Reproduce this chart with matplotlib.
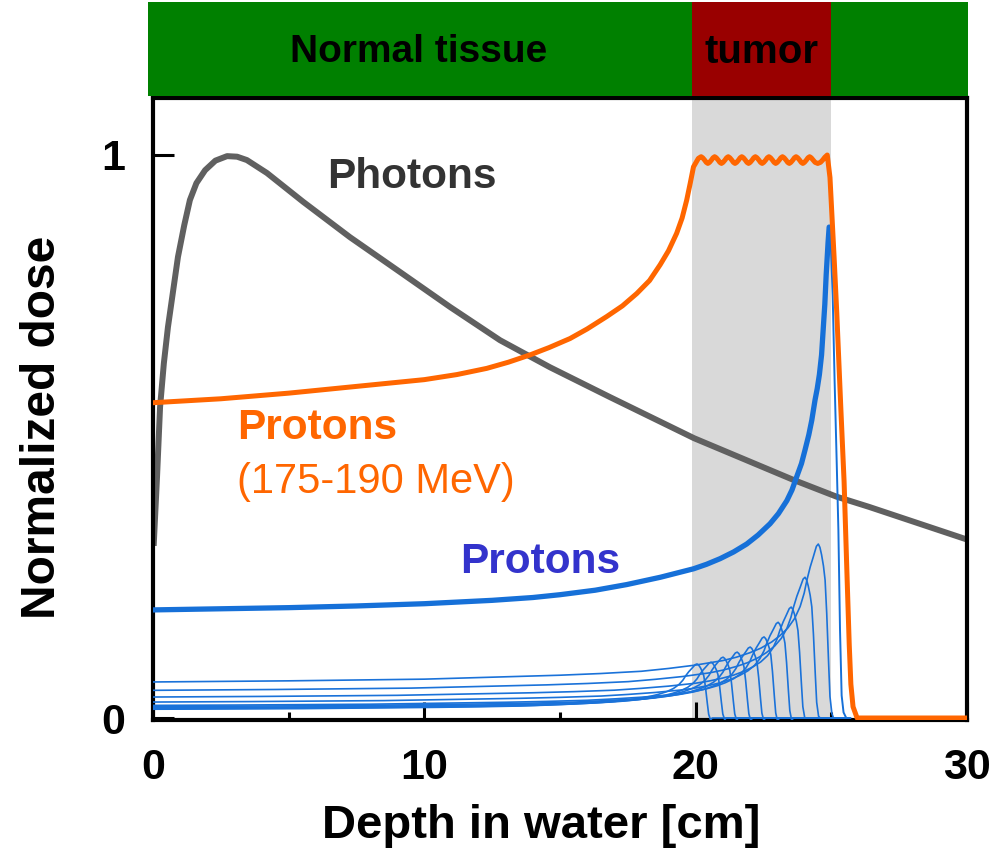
import numpy as np
import matplotlib
matplotlib.use("Agg")
import matplotlib.pyplot as plt

plt.rcParams['font.family'] = ['Liberation Sans', 'DejaVu Sans']

# ---------------- data ----------------
# Photon depth-dose
photon_x = [0.03, 0.15, 0.26, 0.40, 0.55, 0.92, 1.15, 1.36, 1.60, 1.92, 2.30, 2.73, 3.10,
            3.46, 4.20, 5.53, 7.26, 8.99, 10.95, 12.79, 14.63, 16.84, 19.94, 23.60, 25.20,
            26.39, 30.0]
photon_y = [0.311, 0.430, 0.552, 0.630, 0.694, 0.819, 0.875, 0.920, 0.950, 0.973, 0.990,
            0.998, 0.997, 0.991, 0.968, 0.917, 0.854, 0.796, 0.730, 0.671, 0.623, 0.570,
            0.497, 0.423, 0.393, 0.375, 0.317]

# Spread-out Bragg peak (175-190 MeV protons)
sobp_x = [0.0, 2.5, 5.0, 7.5, 10.0, 11.2, 12.30, 13.10, 13.90, 14.60, 15.37, 16.00, 16.72,
          17.30, 17.83, 18.30, 18.69, 19.00, 19.30, 19.50, 19.67, 19.80, 19.92, 20.10,
          20.20, 20.26, 20.33, 20.39, 20.45, 20.51, 20.58, 20.64,
          20.70, 20.76, 20.83, 20.89, 20.95, 21.01, 21.08, 21.14,
          21.20, 21.26, 21.33, 21.39, 21.45, 21.51, 21.58, 21.64,
          21.70, 21.76, 21.83, 21.89, 21.95, 22.01, 22.08, 22.14,
          22.20, 22.26, 22.33, 22.39, 22.45, 22.51, 22.58, 22.64,
          22.70, 22.76, 22.83, 22.89, 22.95, 23.01, 23.08, 23.14,
          23.20, 23.26, 23.33, 23.39, 23.45, 23.51, 23.58, 23.64,
          23.70, 23.76, 23.83, 23.89, 23.95, 24.01, 24.08, 24.14,
          24.20, 24.26, 24.33, 24.40, 24.50, 24.60, 24.68, 24.76, 24.85,
          24.95, 25.10, 25.20, 25.35, 25.47, 25.58, 25.66, 25.72, 25.80, 25.95, 30.0]
sobp_y = [0.560, 0.567, 0.577, 0.589, 0.601, 0.610, 0.621, 0.632, 0.645, 0.658, 0.674, 0.691,
          0.713, 0.732, 0.754, 0.777, 0.805, 0.830, 0.861, 0.888, 0.920, 0.950, 0.979, 0.994,
          0.997, 0.995, 0.991, 0.987, 0.985, 0.987, 0.991, 0.995,
          0.997, 0.995, 0.991, 0.987, 0.985, 0.987, 0.991, 0.995,
          0.997, 0.995, 0.991, 0.987, 0.985, 0.987, 0.991, 0.995,
          0.997, 0.995, 0.991, 0.987, 0.985, 0.987, 0.991, 0.995,
          0.997, 0.995, 0.991, 0.987, 0.985, 0.987, 0.991, 0.995,
          0.997, 0.995, 0.991, 0.987, 0.985, 0.987, 0.991, 0.995,
          0.997, 0.995, 0.991, 0.987, 0.985, 0.987, 0.991, 0.995,
          0.997, 0.995, 0.991, 0.987, 0.985, 0.987, 0.991, 0.995,
          0.997, 0.995, 0.991, 0.987, 0.985, 0.987, 0.991, 0.996, 1.000,
          0.960, 0.820, 0.720, 0.550, 0.420, 0.250, 0.130, 0.060, 0.020, 0.000, 0.000]

# Pristine Bragg peak (thick blue)
bragg_x = [0.0, 2.5, 5.0, 7.5, 10.0, 12.5, 14.0, 15.0, 16.3, 17.46, 18.7, 19.92, 20.4, 20.9,
           21.4, 21.88, 22.3, 22.74, 23.05, 23.36, 23.55, 23.72, 23.9, 24.03, 24.17, 24.28,
           24.40, 24.48, 24.56, 24.64, 24.70, 24.76, 24.81, 24.85, 24.88, 24.92]
bragg_y = [0.192, 0.194, 0.196, 0.199, 0.203, 0.209, 0.214, 0.219, 0.227, 0.237, 0.250,
           0.265, 0.273, 0.283, 0.295, 0.309, 0.325, 0.345, 0.363, 0.386, 0.405, 0.428,
           0.452, 0.476, 0.503, 0.529, 0.565, 0.585, 0.610, 0.645, 0.690, 0.735, 0.787,
           0.820, 0.845, 0.872]
# distal fall-off of the pristine peak (drawn thin)
fall_x = [24.92, 24.98, 25.05, 25.12, 25.20, 25.26, 25.32, 25.38, 25.45, 25.55, 25.70]
fall_y = [0.872, 0.840, 0.750, 0.600, 0.450, 0.334, 0.156, 0.040, 0.010, 0.000, 0.000]

# Deepest individual Bragg peak (thin blue), read point by point
thin_x = [0.0, 5.0, 10.0, 15.0, 16.5, 18.0, 19.0, 20.0, 20.5, 21.0, 21.5, 22.0, 22.4, 22.8,
          23.1, 23.4, 23.65, 23.85, 24.0, 24.1, 24.22, 24.34, 24.45, 24.52, 24.58, 24.64,
          24.71, 24.77, 24.83, 24.90, 24.95, 25.02, 25.08]
thin_y = [0.064, 0.066, 0.069, 0.076, 0.079, 0.083, 0.088, 0.094, 0.098, 0.102, 0.108,
          0.116, 0.124, 0.135, 0.146, 0.160, 0.177, 0.198, 0.222, 0.245, 0.268, 0.287,
          0.305, 0.309, 0.303, 0.290, 0.270, 0.245, 0.186, 0.097, 0.038, 0.008, 0.0]

# All individual weighted Bragg peaks forming the SOBP
peak_depth = [20.05, 20.57, 21.01, 21.53, 22.01, 22.52, 23.04, 23.52, 24.03, 24.52]
peak_height = [0.096, 0.099, 0.108, 0.117, 0.126, 0.144, 0.170, 0.197, 0.250, 0.309]
peak_entrance = [0.015, 0.016, 0.017, 0.018, 0.020, 0.022, 0.028, 0.037, 0.049, 0.064]

# Regions
tumor_start, tumor_end = 19.87, 25.0
band_labels = ["Normal tissue", "tumor"]

xticks = [0, 10, 20, 30]
xminor = [5, 15, 25]
yticks = [0, 1]

# ---------------- figure ----------------
fig = plt.figure(figsize=(10, 8.5), dpi=100)
W, H = 1000.0, 850.0
px0, px30 = 153.0, 967.0
py0, py1 = 718.0, 155.0
sx = (px30 - px0) / 30.0
sy = py0 - py1

ax_top, ax_bot = 98.0, 720.0
ylo = (py0 - ax_bot) / sy
yhi = (py0 - ax_top) / sy
ax = fig.add_axes([px0 / W, 1 - ax_bot / H, (px30 - px0) / W, (ax_bot - ax_top) / H])
ax.set_xlim(0, 30)
ax.set_ylim(ylo, yhi)

ax.axvspan(tumor_start, tumor_end, color='#d9d9d9', lw=0, zorder=0)

ax.plot(photon_x, photon_y, color='#606060', lw=4.3, zorder=2, solid_joinstyle='round')

tx = np.array(thin_x)
ty = np.array(thin_y)
R0, e0, h0 = thin_x[23], thin_y[0], thin_y[23]
for R, h, e in zip(peak_depth, peak_height, peak_entrance):
    xs = tx + (R - R0)
    ys = e + (ty - e0) * (h - e) / (h0 - e0)
    ys[-1] = 0.0
    xs = np.append(xs, 25.6)
    ys = np.append(ys, 0.0)
    ax.plot(xs, ys, color='#1a72d9', lw=1.2, zorder=3)

ax.plot(bragg_x, bragg_y, color='#1670d8', lw=3.8, zorder=4, solid_capstyle='round')
ax.plot(fall_x, fall_y, color='#1670d8', lw=1.4, zorder=4)

ax.plot(sobp_x, sobp_y, color='#ff6600', lw=3.6, zorder=5, solid_joinstyle='round')

# text labels
ax.text(6.41, 0.961, "Photons", color='#333333', fontsize=30.5, fontweight='bold',
        ha='left', va='center')
ax.text(3.10, 0.515, "Protons", color='#ff6600', fontsize=30.5, fontweight='bold',
        ha='left', va='center')
ax.text(3.10, 0.419, "(175-190 MeV)", color='#ff6600', fontsize=30,
        ha='left', va='center')
ax.text(11.32, 0.277, "Protons", color='#3333cc', fontsize=30.5, fontweight='bold',
        ha='left', va='center')

# spines / ticks
for s in ax.spines.values():
    s.set_linewidth(3)
    s.set_color('black')
ax.set_xticks(xticks)
ax.set_xticks(xminor, minor=True)
ax.set_yticks(yticks)
ax.tick_params(axis='x', which='major', direction='in', length=13, width=2.2, pad=20)
ax.tick_params(axis='x', which='minor', direction='in', length=6, width=2.2)
ax.tick_params(axis='y', which='major', direction='in', length=15, width=2.2, pad=20)
ax.set_xticklabels([str(v) for v in xticks], fontsize=31, fontweight='bold')
ax.set_yticklabels([str(v) for v in yticks], fontsize=31, fontweight='bold')

fig.text(541 / W, 1 - 826 / H, "Depth in water [cm]", fontsize=34, fontweight='bold',
         ha='center', va='center')
fig.text(43 / W, 1 - 427 / H, "Normalized dose", fontsize=34.5, fontweight='bold',
         ha='center', va='center', rotation=90)

# tissue band
b_left, b_right, b_top, b_bot = 148.0, 968.0, 2.0, 96.0
bax = fig.add_axes([b_left / W, 1 - b_bot / H, (b_right - b_left) / W, (b_bot - b_top) / H])
bx0 = (b_left - px0) / sx
bx1 = (b_right - px0) / sx
bax.set_xlim(bx0, bx1)
bax.set_ylim(0, 1)
bax.axvspan(bx0, bx1, color='#008000', lw=0)
bax.axvspan(tumor_start, tumor_end, color='#990000', lw=0)
bax.text(9.8, 0.47, band_labels[0], fontsize=28, fontweight='bold', ha='center', va='center')
bax.text((tumor_start + tumor_end) / 2, 0.47, band_labels[1], fontsize=29, fontweight='bold',
         ha='center', va='center')
bax.axis('off')

fig.savefig("out.png", dpi=100)
